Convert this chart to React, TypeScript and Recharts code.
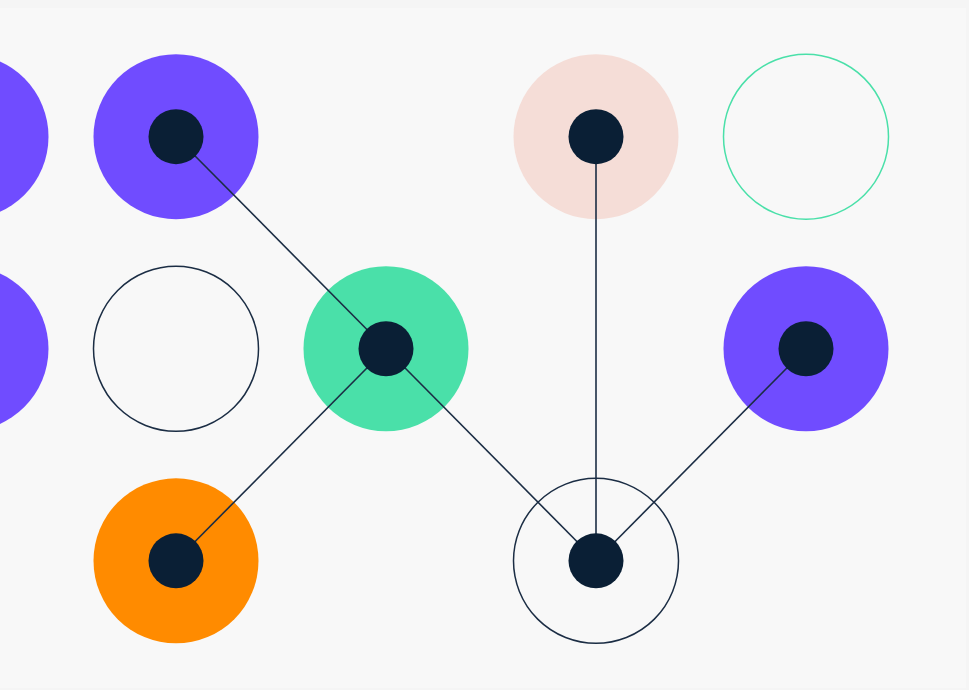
import React from 'react';
import { ScatterChart, Scatter, XAxis, YAxis } from 'recharts';

type P = { x: number; y: number };

// grid coordinates: x = column, y = row
const purpleRings: P[] = [
  { x: -1, y: 0 },
  { x: 0, y: 0 },
  { x: -1, y: 1 },
  { x: 3, y: 1 },
];
const greenRings: P[] = [{ x: 1, y: 1 }];
const orangeRings: P[] = [{ x: 0, y: 2 }];
const pinkRings: P[] = [{ x: 2, y: 0 }];
const navyOutlineRings: P[] = [
  { x: 0, y: 1 },
  { x: 2, y: 2 },
];
const greenOutlineRings: P[] = [{ x: 3, y: 0 }];
const hubs: P[] = [
  { x: 0, y: 0 },
  { x: 2, y: 0 },
  { x: 1, y: 1 },
  { x: 3, y: 1 },
  { x: 0, y: 2 },
  { x: 2, y: 2 },
];
const links: P[][] = [
  [{ x: 0, y: 0 }, { x: 1, y: 1 }],
  [{ x: 1, y: 1 }, { x: 0, y: 2 }],
  [{ x: 1, y: 1 }, { x: 2, y: 2 }],
  [{ x: 2, y: 0 }, { x: 2, y: 2 }],
  [{ x: 3, y: 1 }, { x: 2, y: 2 }],
];

const NAVY = '#0a1f35';
const RING_R = 82.5;
const HUB_R = 27.5;

const ring = (fill: string, stroke: string, sw: number) => (props: any) => (
  <circle cx={props.cx} cy={props.cy} r={RING_R} fill={fill} stroke={stroke} strokeWidth={sw} />
);
const hub = (props: any) => <circle cx={props.cx} cy={props.cy} r={HUB_R} fill={NAVY} />;
const none = () => <g />;

export default function App() {
  return (
    <div
      style={{
        position: 'absolute',
        left: 0,
        top: 0,
        width: 969,
        height: 690,
        background: '#f5f5f5',
        overflow: 'hidden',
      }}
    >
      <div
        style={{
          position: 'absolute',
          left: 0,
          top: 8,
          width: 966,
          height: 680,
          background: '#f8f8f8',
        }}
      />
      <div style={{ position: 'absolute', left: 0, top: 0 }}>
        <ScatterChart width={969} height={690} margin={{ top: 136.7, right: 163, bottom: 129.2, left: -34 }}>
          <XAxis type="number" dataKey="x" domain={[-1, 3]} hide />
          <YAxis type="number" dataKey="y" domain={[0, 2]} reversed hide />
          <Scatter data={purpleRings} shape={ring('#704cff', 'none', 0)} isAnimationActive={false} />
          <Scatter data={greenRings} shape={ring('#4ae0a9', 'none', 0)} isAnimationActive={false} />
          <Scatter data={orangeRings} shape={ring('#ff8b00', 'none', 0)} isAnimationActive={false} />
          <Scatter data={pinkRings} shape={ring('#f5ddd7', 'none', 0)} isAnimationActive={false} />
          <Scatter data={navyOutlineRings} shape={ring('none', '#1b2d44', 1.5)} isAnimationActive={false} />
          <Scatter data={greenOutlineRings} shape={ring('none', '#4ae0a9', 1.5)} isAnimationActive={false} />
          {links.map((seg, i) => (
            <Scatter
              key={i}
              data={seg}
              line={{ stroke: '#1b2d44', strokeWidth: 1.6 }}
              shape={none}
              isAnimationActive={false}
            />
          ))}
          <Scatter data={hubs} shape={hub} isAnimationActive={false} />
        </ScatterChart>
      </div>
    </div>
  );
}
